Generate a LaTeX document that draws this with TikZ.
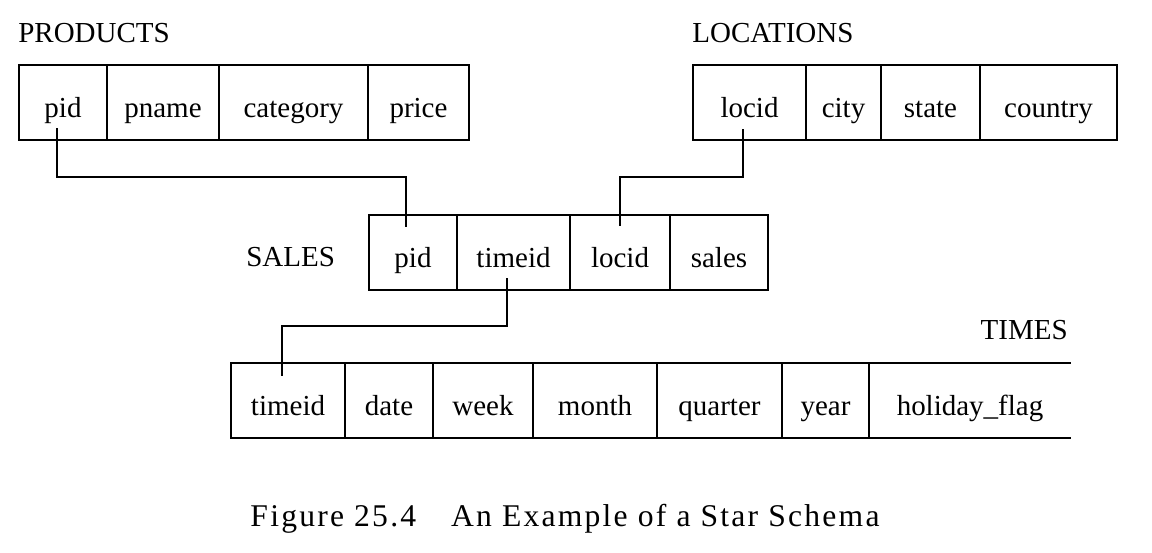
\documentclass[tikz,border=0pt]{standalone}
\usepackage{fontspec}
\setmainfont{Liberation Serif}
\newfontfamily\capfont[LetterSpace=7]{Liberation Serif}
\usetikzlibrary{positioning}

\tikzset{
	cell/.style={draw=black,line width=1pt,inner sep=0pt,outer sep=0pt,
		minimum height=1.5cm,text height=19pt,text depth=2pt,
		font=\fontsize{16.5}{18}\selectfont},
	colw/.style={minimum width=#1*0.02cm},
	title/.style={inner sep=0pt,font=\fontsize{16.5}{18}\selectfont},
	link/.style={line width=0.8pt}
}

\begin{document}
\begin{tikzpicture}[x=0.02cm,y=-0.02cm]
	\useasboundingbox (0,0) rectangle (1152,552);

	% PRODUCTS
	\node[title,anchor=west] (tprod) at (18,33) {PRODUCTS};
	\node[cell,colw=88,anchor=west] (ppid) at (19,102.5) {pid};
	\node[cell,colw=112,right=0pt of ppid] (ppname) {pname};
	\node[cell,colw=149,right=0pt of ppname] (pcat) {category};
	\node[cell,colw=101,right=0pt of pcat] (pprice) {price};

	% LOCATIONS
	\node[title,anchor=west] (tloc) at (692,33) {LOCATIONS};
	\node[cell,colw=113,anchor=west] (lloc) at (693,102.5) {locid};
	\node[cell,colw=75,right=0pt of lloc] (lcity) {city};
	\node[cell,colw=99,right=0pt of lcity] (lstate) {state};
	\node[cell,colw=137,right=0pt of lstate] (lcountry) {country};

	% SALES
	\node[title,anchor=west] (tsales) at (246,257) {SALES};
	\node[cell,colw=88,anchor=west] (spid) at (369,252.5) {pid};
	\node[cell,colw=113,right=0pt of spid] (stime) {timeid};
	\node[cell,colw=100,right=0pt of stime] (sloc) {locid};
	\node[cell,colw=98,right=0pt of sloc] (ssales) {sales};

	% TIMES
	\node[title,anchor=east] (ttimes) at (1068,330) {TIMES};
	\node[cell,colw=114,anchor=west] (ttime) at (231,400.5) {timeid};
	\node[cell,colw=88,right=0pt of ttime] (tdate) {date};
	\node[cell,colw=100,right=0pt of tdate] (tweek) {week};
	\node[cell,colw=124,right=0pt of tweek] (tmonth) {month};
	\node[cell,colw=125,right=0pt of tmonth] (tquarter) {quarter};
	\node[cell,colw=87,right=0pt of tquarter] (tyear) {year};
	\node[cell,colw=202,draw=none,right=0pt of tyear] (tflag) {holiday\_flag};
	\draw[line width=1pt] (tflag.north west) -- (tflag.north east);
	\draw[line width=1pt] (tflag.south west) -- (tflag.south east);

	% keys
	\draw[link] ([xshift=-.12cm,yshift=.24cm]ppid.south) -- ++(0,49)
		-| ([xshift=-.14cm,yshift=-.24cm]spid.north);
	\draw[link] ([xshift=-.13cm,yshift=.22cm]lloc.south) -- ++(0,48)
		-| ([yshift=-.22cm]sloc.north);
	\draw[link] ([xshift=-.13cm,yshift=.24cm]stime.south) -- ++(0,48)
		-| ([xshift=-.12cm,yshift=-.26cm]ttime.north);

	\node[inner sep=0pt,font=\capfont\fontsize{18}{20}\selectfont] (cap) at (565,519)
		{Figure 25.4\hspace{1.1em}An Example of a Star Schema};
\end{tikzpicture}
\end{document}
